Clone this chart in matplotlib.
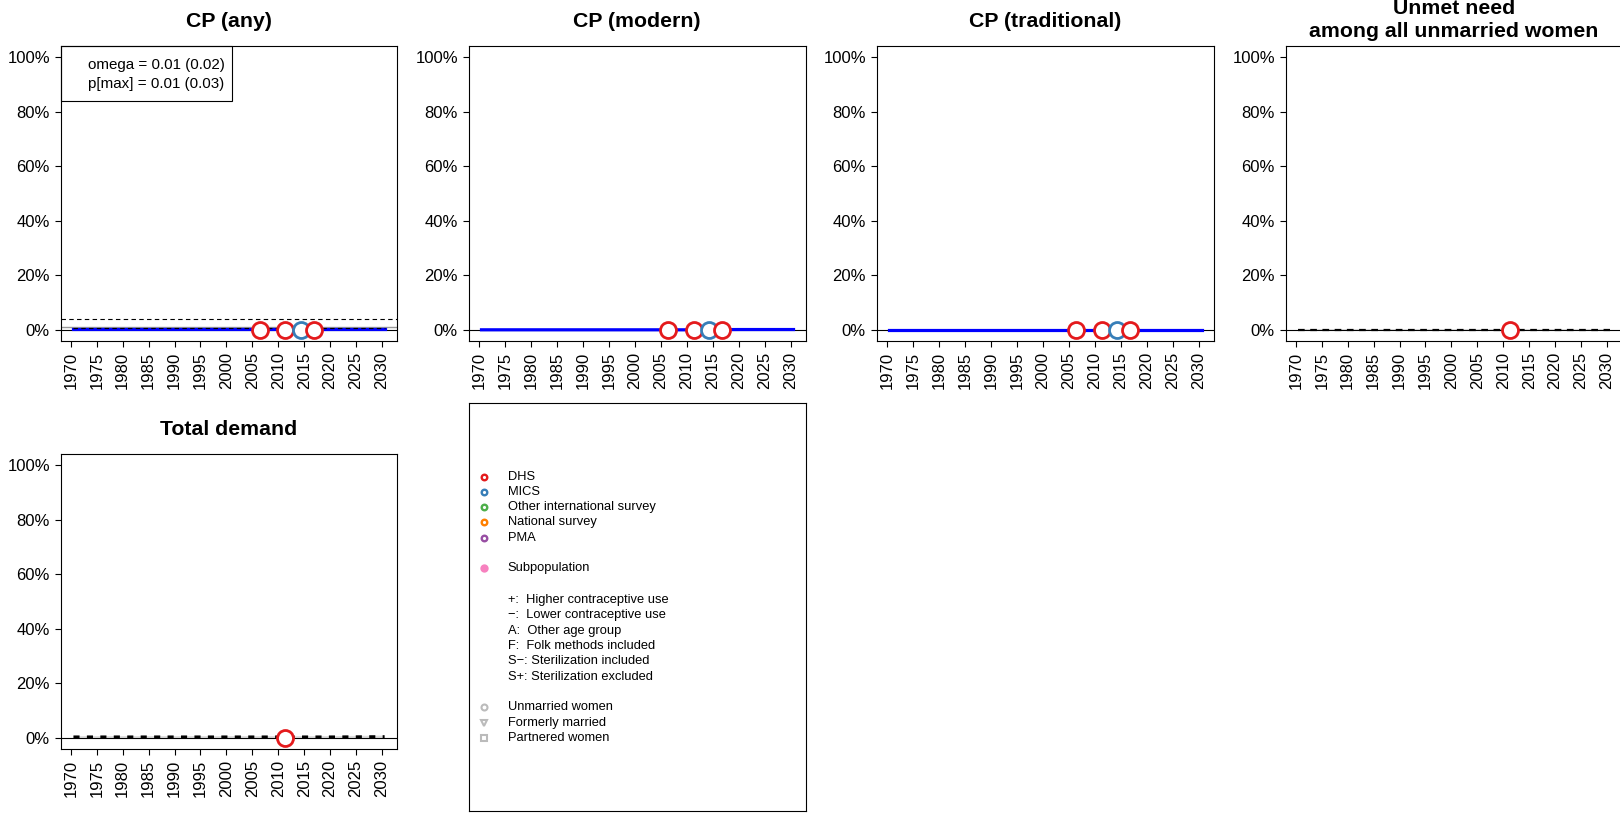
import matplotlib
matplotlib.use("Agg")
import matplotlib.pyplot as plt
from matplotlib.patches import Rectangle

plt.rcParams['font.family'] = ['Liberation Sans', 'DejaVu Sans']

# ---------------- data ----------------
years = [1970.5, 1980, 1990, 2000, 2010, 2020, 2030.5]
xticks = [1970, 1975, 1980, 1985, 1990, 1995, 2000, 2005, 2010, 2015, 2020, 2025, 2030]
yticks = [0.0, 0.2, 0.4, 0.6, 0.8, 1.0]
ytick_labels = ["0%", "20%", "40%", "60%", "80%", "100%"]

titles = ["CP (any)", "CP (modern)", "CP (traditional)",
          "Unmet need\namong all unmarried women", "Total demand"]

# estimates (median, lower, upper)
cp_any_med = [0.003, 0.003, 0.003, 0.003, 0.003, 0.003, 0.003]
cp_any_lo = [0.0, 0.0, 0.0, 0.0, 0.0, 0.0, 0.0]
cp_any_hi = [0.012, 0.012, 0.012, 0.012, 0.012, 0.012, 0.012]
cp_any_alt = [0.006, 0.006, 0.006, 0.006, 0.006, 0.006, 0.006]
cp_any_upper_bound = 0.04

cp_mod_med = [0.001, 0.001, 0.001, 0.001, 0.001, 0.002, 0.002]
cp_mod_lo = [0.0, 0.0, 0.0, 0.0, 0.0, 0.0, 0.0]
cp_mod_hi = [0.004, 0.004, 0.004, 0.004, 0.004, 0.005, 0.005]

cp_trad_med = [0.001, 0.001, 0.001, 0.001, 0.001, 0.001, 0.001]
cp_trad_lo = [0.0, 0.0, 0.0, 0.0, 0.0, 0.0, 0.0]
cp_trad_hi = [0.003, 0.003, 0.003, 0.003, 0.003, 0.003, 0.003]

unmet_med = [0.001, 0.001, 0.001, 0.001, 0.001, 0.001, 0.001]
unmet_lo = [0.0, 0.0, 0.0, 0.0, 0.0, 0.0, 0.0]
unmet_hi = [0.003, 0.003, 0.003, 0.003, 0.003, 0.003, 0.003]

demand_med = [0.004, 0.004, 0.004, 0.004, 0.004, 0.004, 0.005]
demand_lo = [0.0, 0.0, 0.0, 0.0, 0.0, 0.0, 0.0]
demand_hi = [0.009, 0.009, 0.009, 0.009, 0.009, 0.009, 0.011]

# observations
obs_years_cp = [2006.4, 2011.3, 2014.3, 2016.8]
obs_src_cp = ["DHS", "DHS", "MICS", "DHS"]
obs_cp_any = [0.0, 0.0, 0.0, 0.0]
obs_cp_mod = [0.0, 0.0, 0.0, 0.0]
obs_cp_trad = [0.0, 0.0, 0.0, 0.0]
obs_years_un = [2011.3]
obs_src_un = ["DHS"]
obs_unmet = [0.0]
obs_demand = [0.002]

omega_text = "omega = 0.01 (0.02)"
pmax_text = "p[max] = 0.01 (0.03)"

legend_sources = ["DHS", "MICS", "Other international survey", "National survey", "PMA"]
source_colors = {"DHS": "#E41A1C", "MICS": "#377EB8", "Other international survey": "#4DAF4A",
                 "National survey": "#FF7F00", "PMA": "#984EA3"}
legend_notes = ["+:  Higher contraceptive use", "\u2212:  Lower contraceptive use",
                "A:  Other age group", "F:  Folk methods included",
                "S\u2212: Sterilization included", "S+: Sterilization excluded"]
legend_groups = ["Unmarried women", "Formerly married", "Partnered women"]
group_markers = ["o", "v", "s"]

# ---------------- layout ----------------
W, H = 1620, 813
fig = plt.figure(figsize=(W / 100, H / 100), dpi=100)


def box(l, t, r, b):
    return [l / W, 1 - b / H, (r - l) / W, (b - t) / H]


panel_px = [(61, 46, 397, 341), (469, 46, 806, 341), (877, 46, 1214, 341),
            (1286, 46, 1622, 341), (61, 454, 397, 749)]


def style_axes(ax):
    ax.set_xlim(1968.1, 2032.9)
    ax.set_ylim(-0.04, 1.04)
    ax.set_xticks(xticks)
    ax.set_xticklabels([str(x) for x in xticks], rotation=90)
    ax.set_yticks(yticks)
    ax.set_yticklabels(ytick_labels)
    ax.tick_params(axis='both', direction='out', length=4.4, width=0.8,
                   labelsize=12, pad=3.6, colors='black')
    for s in ax.spines.values():
        s.set_linewidth(0.8)
        s.set_color('black')
    ax.axhline(0, color='black', lw=0.8, zorder=2)


def obs(ax, xs, ys, srcs):
    for x, y, s in zip(xs, ys, srcs):
        ax.plot([x], [y], 'o', ms=11.5, mfc='white', mec=source_colors[s], mew=2.0, zorder=6,
                clip_on=False)


axes = []
for (l, t, r, b) in panel_px:
    ax = fig.add_axes(box(l, t, r, b))
    style_axes(ax)
    axes.append(ax)

# titles
title_px = [(229, 27), (637, 27), (1045, 27), None, (229, 435)]
for i, ttl in enumerate(titles):
    if title_px[i] is None:
        continue
    x, y = title_px[i]
    fig.text(x / W, 1 - y / H, ttl, ha='center', va='baseline', fontsize=15.3, fontweight='bold')
l1, l2 = titles[3].split("\n")
fig.text(1454 / W, 1 - 14 / H, l1, ha='center', va='baseline', fontsize=15.3, fontweight='bold')
fig.text(1454 / W, 1 - 37 / H, l2, ha='center', va='baseline', fontsize=15.3, fontweight='bold')

# CP any
ax = axes[0]
ax.fill_between(years, cp_any_lo, cp_any_hi, color='#DDDDDD', lw=0, zorder=1)
ax.axhline(cp_any_hi[0], color='#999999', lw=1.0, zorder=2)
ax.axhline(cp_any_upper_bound, color='black', lw=0.8, ls=(0, (4, 3)), zorder=2)
ax.plot(years, cp_any_med, color='#0000FF', lw=2.3, zorder=3)
ax.plot(years, cp_any_alt, color='black', lw=0.8, ls=(0, (4, 3)), zorder=4)
obs(ax, obs_years_cp, obs_cp_any, obs_src_cp)
fig.patches.append(Rectangle((61 / W, 1 - 101 / H), (232 - 61) / W, (101 - 46) / H,
                             transform=fig.transFigure, fill=False, ec='black', lw=0.8))
fig.text(88 / W, 1 - 65 / H, omega_text, ha='left', va='center', fontsize=10.9)
fig.text(88 / W, 1 - 84 / H, pmax_text, ha='left', va='center', fontsize=10.9)

# CP modern
ax = axes[1]
ax.fill_between(years, cp_mod_lo, cp_mod_hi, color='#DDDDDD', lw=0, zorder=1)
ax.plot(years, cp_mod_med, color='#0000FF', lw=2.3, zorder=3)
obs(ax, obs_years_cp, obs_cp_mod, obs_src_cp)

# CP traditional
ax = axes[2]
ax.fill_between(years, cp_trad_lo, cp_trad_hi, color='#DDDDDD', lw=0, zorder=1)
ax.plot(years, cp_trad_med, color='#0000FF', lw=2.3, zorder=3)
obs(ax, obs_years_cp, obs_cp_trad, obs_src_cp)

# Unmet need
ax = axes[3]
ax.fill_between(years, unmet_lo, unmet_hi, color='#DDDDDD', lw=0, zorder=1)
ax.plot(years, unmet_med, color='black', lw=1.6, ls=(0, (3, 2.5)), zorder=3)
obs(ax, obs_years_un, obs_unmet, obs_src_un)

# Total demand
ax = axes[4]
ax.fill_between(years, demand_lo, demand_hi, color='#DDDDDD', lw=0, zorder=1)
ax.plot(years, demand_med, color='black', lw=2.2, ls=(0, (2, 2.4)), zorder=3)
obs(ax, obs_years_un, obs_demand, obs_src_un)

# ---------------- legend panel ----------------
lax = fig.add_axes(box(469, 403, 806, 811))
lax.set_xlim(469, 806)
lax.set_ylim(811, 403)
lax.set_xticks([])
lax.set_yticks([])
for s in lax.spines.values():
    s.set_linewidth(0.8)
    s.set_color('black')

mx, tx = 484, 507.7
src_y = [476.7, 491.7, 507.0, 522.3, 537.7]
for name, y in zip(legend_sources, src_y):
    lax.plot([mx], [y], 'o', ms=4.0, mfc='white', mec=source_colors[name], mew=1.7)
    lax.text(tx, y, name, ha='left', va='center', fontsize=9.3)
lax.plot([mx], [568.3], 'o', ms=6.0, mfc='#F781BF', mec='#F781BF', mew=0)
lax.text(tx, 568.3, "Subpopulation", ha='left', va='center', fontsize=9.3)
note_y = [599.7, 614.7, 630.7, 645.7, 661.3, 676.7]
for txt, y in zip(legend_notes, note_y):
    lax.text(tx, y, txt, ha='left', va='center', fontsize=9.3)
grp_y = [707.3, 722.7, 738.3]
for txt, mk, y in zip(legend_groups, group_markers, grp_y):
    lax.plot([mx], [y], mk, ms=4.3, mfc='white', mec='#BBBBBB', mew=1.5)
    lax.text(tx, y, txt, ha='left', va='center', fontsize=9.3)

fig.savefig("out.png", dpi=100)
